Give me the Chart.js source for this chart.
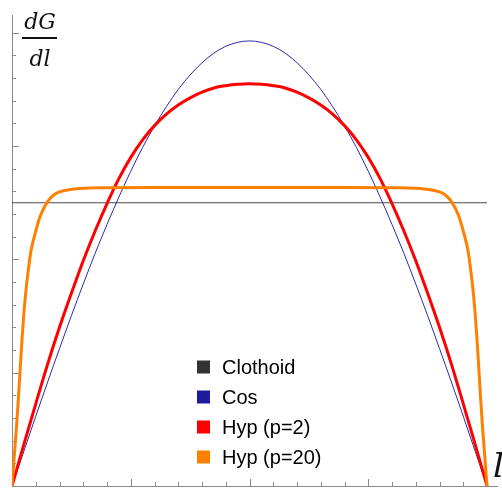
<!DOCTYPE html>
<html>
<head>
<meta charset="utf-8">
<script src="https://cdn.jsdelivr.net/npm/chart.js@4"></script>
<style>
html,body{margin:0;padding:0;background:#fff;}
#wrap{position:relative;width:502px;height:488px;}
</style>
</head>
<body>
<div id="wrap"><canvas id="c" width="502" height="488"></canvas></div>
<script>
// ---- data (l in [0,1], dG/dl normalised so the clothoid = 1) ----
const seriesNames = ["Clothoid", "Cos", "Hyp (p=2)", "Hyp (p=20)"];
const seriesColors = ["#333333", "#1c1c9a", "#ff0000", "#ff8000"];

const clothoidL = [0, 1];
const clothoidV = [1, 1];

const cosL = [0,0.025,0.05,0.075,0.1,0.125,0.15,0.175,0.2,0.225,0.25,0.275,0.3,0.325,0.35,0.375,0.4,0.425,0.45,0.475,0.5,
              0.525,0.55,0.575,0.6,0.625,0.65,0.675,0.7,0.725,0.75,0.775,0.8,0.825,0.85,0.875,0.9,0.925,0.95,0.975,1];
const cosV = [0,0.123,0.246,0.367,0.485,0.601,0.713,0.821,0.923,1.020,1.111,1.195,1.271,1.339,1.400,1.451,1.494,1.528,1.552,1.566,1.571,
              1.566,1.552,1.528,1.494,1.451,1.400,1.339,1.271,1.195,1.111,1.020,0.923,0.821,0.713,0.601,0.485,0.367,0.246,0.123,0];

const hyp2L = [0,0.025,0.05,0.075,0.1,0.125,0.15,0.175,0.2,0.225,0.25,0.275,0.3,0.325,0.35,0.375,0.4,0.425,0.45,0.475,0.5,
               0.525,0.55,0.575,0.6,0.625,0.65,0.675,0.7,0.725,0.75,0.775,0.8,0.825,0.85,0.875,0.9,0.925,0.95,0.975,1];
const hyp2V = [0,0.147,0.29,0.43,0.56,0.68,0.795,0.90,0.997,1.085,1.16,1.222,1.272,1.313,1.345,1.37,1.39,1.405,1.413,1.418,1.42,
               1.418,1.413,1.405,1.39,1.37,1.345,1.313,1.272,1.222,1.16,1.085,0.997,0.90,0.795,0.68,0.56,0.43,0.29,0.147,0];

const hyp20L = [0,0.005,0.01,0.015,0.02,0.025,0.03,0.035,0.04,0.05,0.06,0.07,0.08,0.09,0.1,0.12,0.15,0.2,
                0.3,0.4,0.5,0.6,0.7,
                0.8,0.85,0.88,0.9,0.91,0.92,0.93,0.94,0.95,0.96,0.965,0.97,0.975,0.98,0.985,0.99,0.995,1];
const hyp20V = [0,0.11,0.22,0.35,0.49,0.61,0.70,0.77,0.83,0.90,0.955,0.99,1.015,1.03,1.038,1.046,1.051,1.053,
                1.054,1.054,1.054,1.054,1.054,
                1.053,1.051,1.046,1.038,1.03,1.015,0.99,0.955,0.90,0.83,0.77,0.70,0.61,0.49,0.35,0.22,0.11,0];

// axis extents and tick spacing
const xMin = 0, xMax = 1.021, xTickStep = 0.05, xMajorEvery = 5;
const yMin = 0, yMax = 1.6625, yTickStep = 0.08, yMajorEvery = 5;

// ---- build datasets ----
function pts(ls, vs){ return ls.map((l,i)=>({x:l, y:vs[i]})); }
const axisGray = "#8a8a8a";

const datasets = [
  {label: seriesNames[0], data: pts(clothoidL, clothoidV), borderColor: "#4a4a4a", borderWidth: 1.1, order: 4},
  {label: seriesNames[1], data: pts(cosL, cosV), borderColor: "#2a2aa8", borderWidth: 1, order: 3},
  {label: seriesNames[2], data: pts(hyp2L, hyp2V), borderColor: seriesColors[2], borderWidth: 3, order: 2},
  {label: seriesNames[3], data: pts(hyp20L, hyp20V), borderColor: seriesColors[3], borderWidth: 3, order: 1}
].map(d => Object.assign({pointRadius: 0, fill: false, cubicInterpolationMode: 'monotone'}, d));

// inward tick marks drawn from the library scales
const tickPlugin = {
  id: 'inTicks',
  beforeDatasetsDraw(chart){
    const ctx = chart.ctx, xs = chart.scales.x, ys = chart.scales.y;
    const bottom = ys.getPixelForValue(0), left = xs.getPixelForValue(0);
    ctx.save();
    ctx.strokeStyle = axisGray; ctx.lineWidth = 1;
    ctx.beginPath();
    for (let i = 1; i * xTickStep <= 1.0001; i++) {
      const px = Math.round(xs.getPixelForValue(i * xTickStep)) + 0.5;
      const len = (i % xMajorEvery === 0) ? 7 : 4;
      ctx.moveTo(px, bottom); ctx.lineTo(px, bottom - len);
    }
    for (let i = 1; i * yTickStep <= yMax; i++) {
      const py = Math.round(ys.getPixelForValue(i * yTickStep)) + 0.5;
      const len = (i % yMajorEvery === 0) ? 7 : 4;
      ctx.moveTo(left, py); ctx.lineTo(left + len, py);
    }
    ctx.stroke();
    ctx.restore();
  }
};

// legend + axis labels
const labelPlugin = {
  id: 'labels',
  afterDraw(chart){
    const ctx = chart.ctx;
    ctx.save();
    // legend
    const lx = 197, ly0 = 367, dy = 30, sq = 13;
    ctx.font = '20px "Liberation Sans", Arial, sans-serif';
    ctx.textBaseline = 'middle';
    seriesNames.forEach((name, i) => {
      const y = ly0 + i * dy;
      ctx.fillStyle = seriesColors[i];
      ctx.fillRect(lx, y - sq/2, sq, sq);
      ctx.fillStyle = '#000';
      ctx.fillText(name, 222, y + 1);
    });
    // y label: dG / dl
    ctx.font = 'italic 22px "DejaVu Serif", "Liberation Serif", serif';
    ctx.textAlign = 'center';
    ctx.textBaseline = 'alphabetic';
    ctx.fillStyle = '#111';
    ctx.fillText('dG', 40, 29);
    ctx.fillRect(22, 37, 35, 2);
    ctx.fillText('dl', 40, 66);
    // x label: l
    ctx.font = 'italic 34px "DejaVu Serif", "Liberation Serif", serif';
    ctx.textAlign = 'left';
    ctx.fillText('l', 493, 477);
    ctx.restore();
  }
};

new Chart(document.getElementById('c'), {
  type: 'line',
  data: {datasets},
  options: {
    responsive: false,
    devicePixelRatio: 1,
    animation: false,
    layout: {padding: {left: 12, right: 5, top: 15, bottom: 2}},
    plugins: {legend: {display: false}, tooltip: {enabled: false}},
    scales: {
      x: {
        type: 'linear', min: xMin, max: xMax,
        ticks: {display: false},
        grid: {display: true, drawOnChartArea: false, drawTicks: false},
        border: {display: true, color: axisGray, width: 1}
      },
      y: {
        type: 'linear', min: yMin, max: yMax,
        ticks: {display: false},
        grid: {display: true, drawOnChartArea: false, drawTicks: false},
        border: {display: true, color: axisGray, width: 1}
      }
    }
  },
  plugins: [tickPlugin, labelPlugin]
});
</script>
</body>
</html>
